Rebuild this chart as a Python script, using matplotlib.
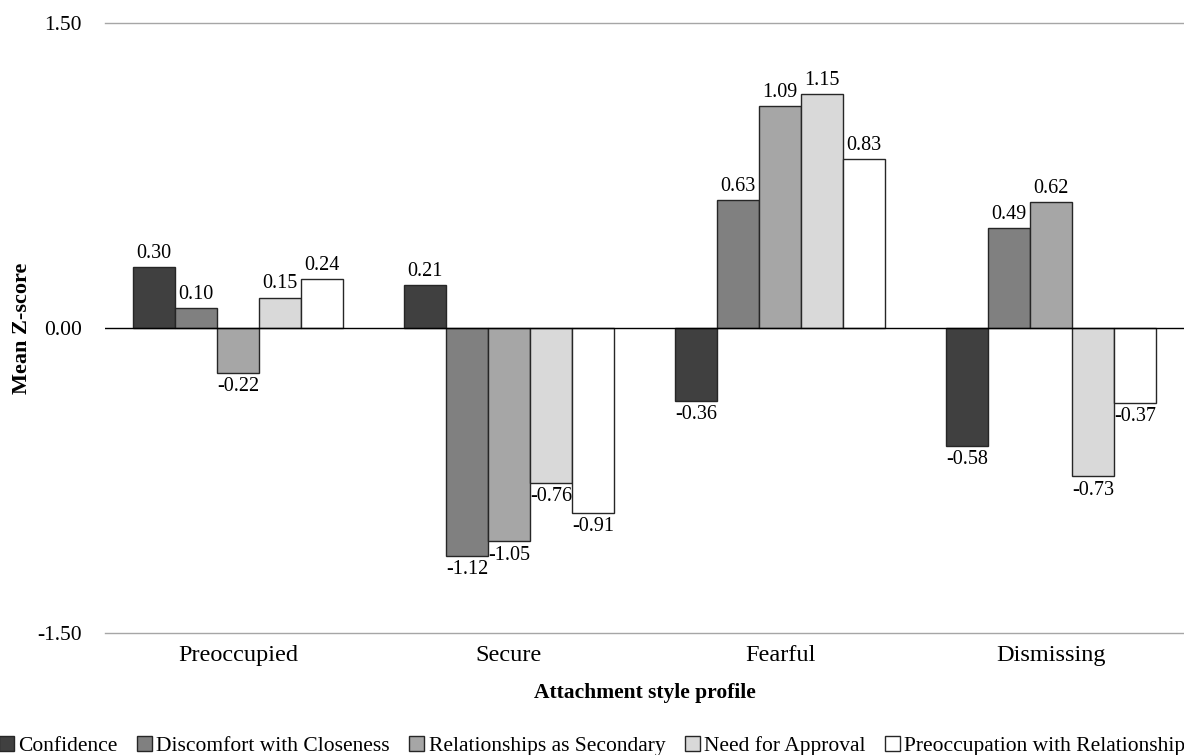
import numpy as np
import matplotlib
matplotlib.use('Agg')
import matplotlib.pyplot as plt

plt.rcParams['font.family'] = ['Liberation Serif', 'DejaVu Serif']

groups = ['Preoccupied', 'Secure', 'Fearful', 'Dismissing']
series = ['Confidence', 'Discomfort with Closeness', 'Relationships as Secondary',
          'Need for Approval', 'Preoccupation with Relationship']
confidence = [0.30, 0.21, -0.36, -0.58]
discomfort = [0.10, -1.12, 0.63, 0.49]
secondary = [-0.22, -1.05, 1.09, 0.62]
approval = [0.15, -0.76, 1.15, -0.73]
preoccupation = [0.24, -0.91, 0.83, -0.37]
values = [confidence, discomfort, secondary, approval, preoccupation]
colors = ['#404040', '#808080', '#a6a6a6', '#d9d9d9', '#ffffff']

fig = plt.figure(figsize=(11.84, 7.55), dpi=100)
ax = fig.add_axes([0.0887, 0.1616, 0.9113, 0.8079])

x = np.arange(len(groups))
w = 0.155
for i, (name, vals, c) in enumerate(zip(series, values, colors)):
    pos = x + (i - 2) * w
    bars = ax.bar(pos, vals, w, color=c, edgecolor='#262626', linewidth=1, label=name, zorder=3)
    for b, v in zip(bars, vals):
        if v >= 0:
            ax.annotate(f'{v:.2f}', (b.get_x() + b.get_width() / 2, v), xytext=(0, 3),
                        textcoords='offset points', ha='center', va='bottom', fontsize=14.5)
        else:
            ax.annotate(f'{v:.2f}', (b.get_x() + b.get_width() / 2, v), xytext=(0, -3),
                        textcoords='offset points', ha='center', va='top', fontsize=14.5)

ax.set_xlim(-0.49, 3.49)
ax.set_ylim(-1.5, 1.5)
ax.set_yticks([-1.5, 0, 1.5])
ax.set_yticklabels(['-1.50', '0.00', '1.50'], fontsize=15.5)
for yv in [-1.5, 1.5]:
    ax.axhline(yv, color='#a6a6a6', linewidth=1, zorder=1, clip_on=False)
ax.axhline(0, color='black', linewidth=1, zorder=4)
ax.set_xticks(x)
ax.set_xticklabels(groups, fontsize=17.5)
ax.tick_params(length=0, pad=9)
ax.tick_params(axis='y', pad=16.5)
for s in ax.spines.values():
    s.set_visible(False)

ax.set_xlabel('Attachment style profile', fontsize=15.5, fontweight='bold', labelpad=12)
ax.set_ylabel('Mean Z-score', fontsize=16, fontweight='bold', labelpad=4)

fig.legend(loc='lower center', bbox_to_anchor=(0.5, -0.018), ncol=5, frameon=False,
           fontsize=15.5, handlelength=0.7, handleheight=0.7, handletextpad=0.2,
           columnspacing=0.9, borderaxespad=0.2)

fig.savefig('out.png', dpi=100)
